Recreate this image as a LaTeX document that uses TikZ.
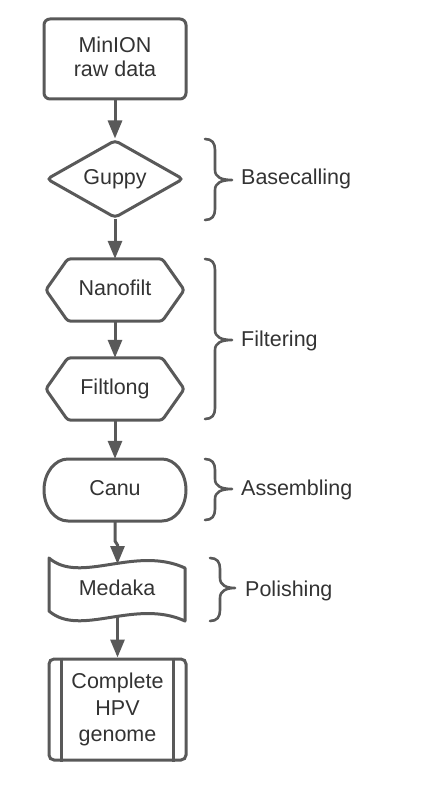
\documentclass[tikz,border=0pt]{standalone}
\usepackage{fontspec}
\setmainfont{Liberation Sans}
\usetikzlibrary{arrows.meta,shapes.geometric,calc}
\definecolor{ln}{HTML}{595959}
\definecolor{tx}{HTML}{333333}
\newcommand\tstr{\rule{0pt}{16pt}}
\newcommand\bstr{\rule[-4.5pt]{0pt}{4.5pt}}
\newcommand\mybrace[5]{% x0, ytop, ymid, ybot, tip offset
  \draw[brc] (#1,#2) .. controls (#1+7,#2) and (#1+10,#2+4) .. (#1+10,#2+11)
    -- (#1+10,#3-10) .. controls (#1+10,#3-3) and (#1+16,#3) .. (#1+#5,#3)
    .. controls (#1+16,#3) and (#1+10,#3+3) .. (#1+10,#3+10)
    -- (#1+10,#4-11) .. controls (#1+10,#4-4) and (#1+7,#4) .. (#1,#4);}
\begin{document}
\begin{tikzpicture}[x=1pt,y=-1pt,
  txt/.style={text=tx, font=\fontsize{21.5}{24}\selectfont},
  one/.style={txt, inner sep=0pt, text height=16pt, text depth=4.5pt},
  shp/.style={draw=ln, line width=3pt, inner sep=0pt, txt, align=center},
  ol/.style={draw=ln, line width=3pt, line join=round},
  arr/.style={draw=ln, line width=3pt, -{Triangle[length=18pt,width=14pt]}},
  brc/.style={draw=ln, line width=2.6pt, line cap=round, line join=round},
  lbl/.style={txt, anchor=base west, inner sep=0pt}]
\useasboundingbox (0,0) rectangle (423,799);

% MinION raw data
\node[shp, rounded corners=6pt, minimum width=142pt, minimum height=80pt] (minion) at (115,59)
  {\tstr MinION\\raw data\bstr};

% Guppy
\node[shp, one, diamond, aspect=1.756, rounded corners=4pt, minimum width=137pt, minimum height=78pt] (guppy) at (115,179) {Guppy};

% Nanofilt
\node[one, minimum width=138pt, minimum height=62pt] (nanofilt) at (115,290) {Nanofilt};
\draw[ol, rounded corners=3pt] (nanofilt.west) -- ([xshift=22pt]nanofilt.north west) -- ([xshift=-22pt]nanofilt.north east)
  -- (nanofilt.east) -- ([xshift=-22pt]nanofilt.south east) -- ([xshift=22pt]nanofilt.south west) -- cycle;

% Filtlong
\node[one, minimum width=138pt, minimum height=62pt] (filtlong) at (115,389) {Filtlong};
\draw[ol, rounded corners=3pt] (filtlong.west) -- ([xshift=22pt]filtlong.north west) -- ([xshift=-22pt]filtlong.north east)
  -- (filtlong.east) -- ([xshift=-22pt]filtlong.south east) -- ([xshift=22pt]filtlong.south west) -- cycle;

% Canu
\node[one, minimum width=142pt, minimum height=62pt] (canu) at (115,490) {Canu};
\draw[ol] (68,459) -- (162,459) .. controls (175.25,459) and (186,472.9) .. (186,490)
  .. controls (186,507.1) and (175.25,521) .. (162,521) -- (68,521)
  .. controls (54.75,521) and (44,507.1) .. (44,490)
  .. controls (44,472.9) and (54.75,459) .. (68,459) -- cycle;

% Medaka
\node[one] (medaka) at (117,590) {Medaka};
\draw[ol] (49,558) .. controls (80,585) and (135,545) .. (185,568) -- (185,621)
  .. controls (135,598) and (80,638) .. (49,611) -- cycle;
\coordinate (medtop) at (117.5,564);
\coordinate (medbot) at (117.5,617);

% Complete HPV genome
\node[shp, rounded corners=5pt, minimum width=137pt, minimum height=101pt, font=\fontsize{21.5}{26.5}\selectfont] (complete) at (117.5,709.5)
  {\tstr Complete\\HPV\\genome\bstr};
\draw[ol] ([xshift=14pt]complete.north west) -- ([xshift=14pt]complete.south west);
\draw[ol] ([xshift=-14pt]complete.north east) -- ([xshift=-14pt]complete.south east);

% connectors
\coordinate (jog1) at (115,541);
\coordinate (jog2) at (117.5,545);
\draw[arr] (minion.south) -- (guppy.north);
\draw[arr] (guppy.south) -- (nanofilt.north);
\draw[arr] (nanofilt.south) -- (filtlong.north);
\draw[arr] (filtlong.south) -- (canu.north);
\draw[arr] (canu.south) -- (jog1) -- (jog2) -- (medtop);
\draw[arr] (medbot) -- (complete.north);

% braces
\mybrace{205}{139}{180}{220}{27}
\mybrace{205}{259}{340}{419}{27}
\mybrace{205}{459}{489}{520}{27}
\mybrace{210}{558}{588}{621}{25}

\node[lbl] (basecalling) at (241,185) {Basecalling};
\node[lbl] (filtering) at (241,346) {Filtering};
\node[lbl] (assembling) at (241,495) {Assembling};
\node[lbl] (polishing) at (245,596) {Polishing};
\end{tikzpicture}
\end{document}
